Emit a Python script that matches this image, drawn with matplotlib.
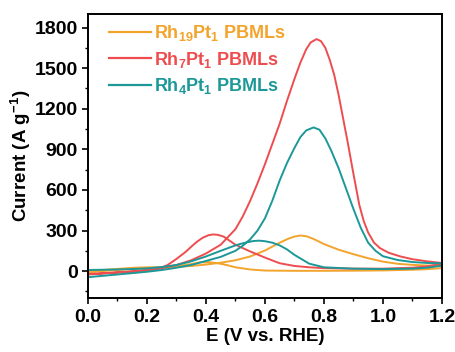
import matplotlib
matplotlib.use('Agg')

import matplotlib.pyplot as plt

plt.rcParams['font.family'] = ['Liberation Sans', 'DejaVu Sans']
plt.rcParams['font.weight'] = 'bold'
plt.rcParams['mathtext.fontset'] = 'custom'
plt.rcParams['mathtext.rm'] = 'Liberation Sans:bold'
plt.rcParams['mathtext.bf'] = 'Liberation Sans:bold'
plt.rcParams['mathtext.it'] = 'Liberation Sans:bold'

# ---- data (E in V vs RHE, current in A/g) ----
labels = [r'Rh$_{19}$Pt$_{1}$ PBMLs', r'Rh$_{7}$Pt$_{1}$ PBMLs', r'Rh$_{4}$Pt$_{1}$ PBMLs']
colors = ['#F2A42C', '#EE4D50', '#1C9898']

# Rh19Pt1
rh19_fwd_e = [0.0, 0.05, 0.1, 0.15, 0.2, 0.25, 0.3, 0.35, 0.4, 0.45, 0.5, 0.55, 0.6, 0.65,
              0.68, 0.7, 0.72, 0.74, 0.76, 0.78, 0.8, 0.85, 0.9, 0.95, 1.0, 1.05, 1.1, 1.15, 1.2]
rh19_fwd_i = [-10, 0, 8, 15, 22, 25, 30, 38, 48, 62, 80, 108, 152, 210,
              240, 255, 263, 258, 242, 222, 200, 158, 125, 95, 70, 54, 46, 41, 38]
rh19_bwd_e = [1.2, 1.15, 1.1, 1.0, 0.9, 0.8, 0.7, 0.6, 0.55, 0.5, 0.47, 0.44, 0.41, 0.38,
              0.35, 0.3, 0.25, 0.2, 0.15, 0.1, 0.05, 0.0]
rh19_bwd_i = [22, 14, 10, 5, 3, 2, 2, 4, 12, 28, 45, 58, 66, 65,
              52, 36, 28, 28, 24, 16, 8, 0]

# Rh7Pt1
rh7_fwd_e = [0.0, 0.05, 0.1, 0.15, 0.2, 0.25, 0.3, 0.35, 0.4, 0.45, 0.5, 0.525, 0.55, 0.575,
             0.6, 0.625, 0.65, 0.675, 0.7, 0.72, 0.74, 0.755, 0.775, 0.79, 0.805, 0.82, 0.835,
             0.85, 0.865, 0.88, 0.9, 0.92, 0.935, 0.95, 0.97, 0.99, 1.02, 1.06, 1.1, 1.15, 1.2]
rh7_fwd_i = [-25, -18, -10, -3, 8, 22, 45, 80, 130, 195, 310, 405, 520, 650,
             790, 940, 1090, 1260, 1420, 1540, 1640, 1690, 1715, 1700, 1650, 1560, 1450,
             1300, 1130, 960, 720, 490, 370, 285, 210, 170, 135, 108, 88, 72, 60]
rh7_bwd_e = [1.2, 1.15, 1.1, 1.0, 0.9, 0.8, 0.75, 0.7, 0.65, 0.6, 0.55, 0.5, 0.48, 0.46,
             0.44, 0.425, 0.41, 0.39, 0.37, 0.35, 0.33, 0.3, 0.27, 0.24, 0.2, 0.15, 0.1,
             0.05, 0.0]
rh7_bwd_i = [55, 35, 25, 18, 18, 22, 28, 38, 58, 100, 145, 195, 225, 255,
             268, 271, 266, 248, 218, 180, 140, 90, 45, 18, 5, -3, -10,
             -16, -22]

# Rh4Pt1
rh4_fwd_e = [0.0, 0.05, 0.1, 0.15, 0.2, 0.25, 0.3, 0.35, 0.4, 0.45, 0.5, 0.525, 0.55, 0.575,
             0.6, 0.625, 0.65, 0.675, 0.7, 0.72, 0.74, 0.765, 0.785, 0.805, 0.825, 0.85,
             0.875, 0.9, 0.925, 0.95, 0.975, 1.0, 1.05, 1.1, 1.15, 1.2]
rh4_fwd_i = [-45, -35, -25, -15, -5, 8, 25, 45, 75, 105, 150, 188, 235, 300,
             390, 520, 670, 800, 910, 990, 1040, 1062, 1045, 980, 890, 760,
             610, 460, 320, 210, 150, 110, 82, 67, 60, 58]
rh4_bwd_e = [1.2, 1.15, 1.1, 1.0, 0.9, 0.8, 0.75, 0.7, 0.675, 0.65, 0.625, 0.6, 0.58, 0.56,
             0.54, 0.52, 0.5, 0.475, 0.45, 0.4, 0.35, 0.3, 0.25, 0.2, 0.15, 0.1, 0.05, 0.0]
rh4_bwd_i = [40, 25, 18, 15, 18, 28, 55, 120, 160, 190, 210, 221, 225, 222,
             213, 203, 190, 170, 150, 108, 72, 45, 30, 20, 15, 12, 10, 8]

curves = [
    (rh19_fwd_e + rh19_bwd_e, rh19_fwd_i + rh19_bwd_i),
    (rh7_fwd_e + rh7_bwd_e, rh7_fwd_i + rh7_bwd_i),
    (rh4_fwd_e + rh4_bwd_e, rh4_fwd_i + rh4_bwd_i),
]

fig = plt.figure(figsize=(4.56, 3.52), dpi=100)
ax = fig.add_axes([0.193, 0.153, 0.776, 0.807])

for (e, i), lab, c in zip(curves, labels, colors):
    ax.plot(e, i, color=c, lw=1.4, label=lab, solid_joinstyle='round')

ax.set_xlim(0, 1.2)
ax.set_ylim(-200, 1900)
ax.set_xticks([0.0, 0.2, 0.4, 0.6, 0.8, 1.0, 1.2])
ax.set_xticks([0.1, 0.3, 0.5, 0.7, 0.9, 1.1], minor=True)
ax.set_yticks([0, 300, 600, 900, 1200, 1500, 1800])
ax.set_yticks([-150, 150, 450, 750, 1050, 1350, 1650], minor=True)

ax.tick_params(which='major', direction='out', length=4, width=1.2, labelsize=14)
ax.tick_params(which='minor', direction='out', length=2.5, width=1.0)
for s in ax.spines.values():
    s.set_linewidth(1.4)

ax.set_xlabel('E (V vs. RHE)', fontsize=13.5, fontweight='bold', labelpad=2)
ax.set_ylabel(r'Current (A g$^{-1}$)', fontsize=13.5, fontweight='bold', labelpad=1)

leg = ax.legend(loc='upper left', frameon=False, fontsize=13, handlelength=2.3,
                handletextpad=0.15, labelspacing=0.35, borderaxespad=0.2,
                bbox_to_anchor=(0.03, 1.005), labelcolor='linecolor')
for line in leg.get_lines():
    line.set_linewidth(1.6)

plt.savefig('out.png', dpi=100)
